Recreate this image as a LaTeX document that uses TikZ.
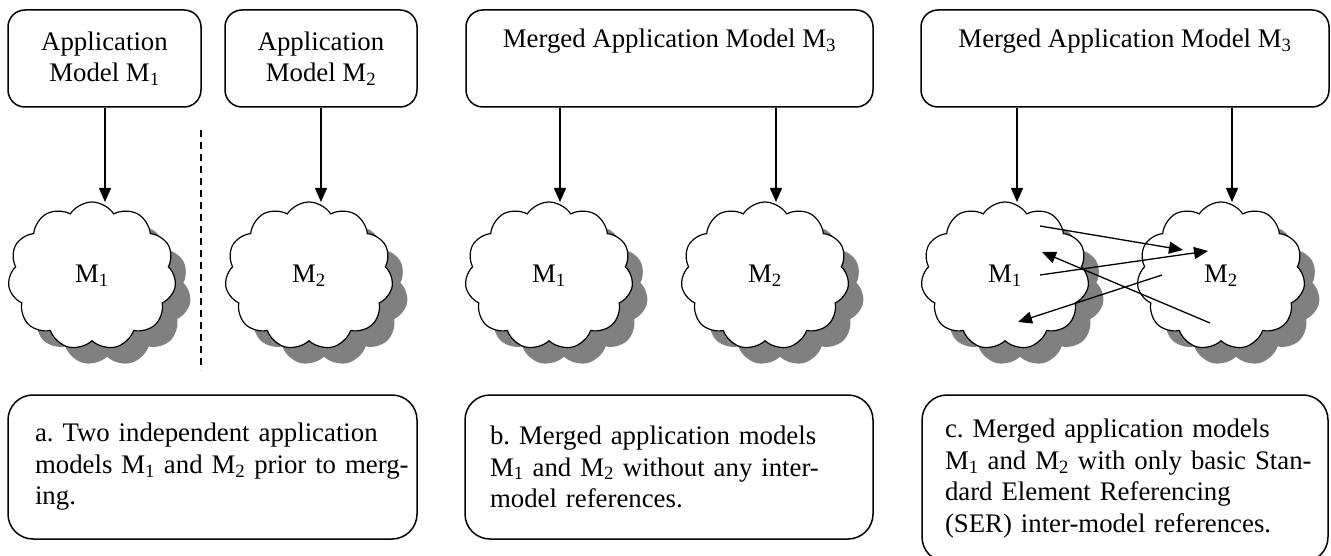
\documentclass[tikz,border=0pt]{standalone}
\usepackage{fontspec}
\setmainfont{Liberation Serif}
\usepackage{tikz}
\usetikzlibrary{positioning}
\usetikzlibrary{arrows.meta,shapes.symbols,shadows}

\newcommand{\Msub}[1]{M\textsubscript{#1}}
\frenchspacing

\begin{document}
\begin{tikzpicture}
    [x=1pt, y=-1pt,
      every node/.style={font=\fontsize{26.8}{31.5}\selectfont},
      model/.style={draw=black, line width=1.5pt, rounded corners=17pt, align=center, inner sep=0pt, minimum height=97pt},
      caption/.style={draw=black, line width=1.5pt, rounded corners=25pt, align=left, inner xsep=5pt, inner ysep=0pt,
                      execute at begin node={\leftskip=#1\relax}},
      blob/.style={cloud, cloud puffs=11, cloud puff arc=115, aspect=1.14, draw=black, line width=1.2pt, fill=white,
                   minimum width=168pt, minimum height=148pt, inner sep=0pt,
                   drop shadow={shadow xshift=15pt, shadow yshift=-16pt, fill=gray, opacity=1}},
      darc/.style={-{Triangle[length=14pt,width=12pt]}, line width=1.3pt},
      divider/.style={line width=1.2pt, dash pattern=on 7pt off 5pt}]

    \useasboundingbox (0,0) rectangle (1331,556);

    % models on top
    \node (a1) at (104.5,58.5) [model, minimum width=193pt] {Application\\Model \Msub{1}};
    \node (a2) at (321,58.5) [model, minimum width=192pt] {Application\\Model \Msub{2}};
    \node (b3) at (669.5,58.5) [model, minimum width=407pt] {Merged Application Model \Msub{3}\\ \strut};
    \node (c3) at (1125,58.5) [model, minimum width=408pt] {Merged Application Model \Msub{3}\\ \strut};

    % clouds
    \node (am1) at (92,276) [blob] {\Msub{1}};
    \node (am2) at (309,276) [blob] {\Msub{2}};
    \node (bm1) at (549,276) [blob] {\Msub{1}};
    \node (bm2) at (765,276) [blob] {\Msub{2}};
    \node (cm1) at (1005,276) [blob] {\Msub{1}};
    \node (cm2) at (1221,276) [blob] {\Msub{2}};

    \coordinate (ta1) at (105,202);
    \coordinate (ta2) at (321,202);
    \coordinate (tb1) at (560,202);
    \coordinate (tb2) at (776,202);
    \coordinate (tc1) at (1017,202);
    \coordinate (tc2) at (1232,202);
    \draw[darc] (a1.south -| ta1) to (ta1);
    \draw[darc] (a2.south -| ta2) to (ta2);
    \draw[darc] (b3.south -| tb1) to (tb1);
    \draw[darc] (b3.south -| tb2) to (tb2);
    \draw[darc] (c3.south -| tc1) to (tc1);
    \draw[darc] (c3.south -| tc2) to (tc2);

    % references between M1 and M2
    \coordinate (r1) at (1040,226);
    \coordinate (r2) at (1183,250);
    \coordinate (r3) at (1040,275);
    \coordinate (r4) at (1208,251);
    \coordinate (r5) at (1210,323);
    \coordinate (r6) at (1042,252);
    \coordinate (r7) at (1162,275);
    \coordinate (r8) at (1018,322);
    \draw[darc] (r1) to (r2);
    \draw[darc] (r3) to (r4);
    \draw[darc] (r5) to (r6);
    \draw[darc] (r7) to (r8);

    \coordinate (d1) at (201,130);
    \coordinate (d2) at (201,370);
    \draw[divider] (d1) to (d2);

    % captions
    \node (capa) at (212.5,467) [caption=22pt, text width=399pt, minimum height=144pt] {a. Two independent application\\models \Msub{1} and \Msub{2} prior to merg-\\ing.};
    \node (capb) at (669,467) [caption=20pt, text width=398pt, minimum height=144pt] {b. Merged application models\\\Msub{1} and \Msub{2} without any inter-\\model references.};
    \node (capc) at (1125,478.5) [caption=18pt, text width=396pt, minimum height=167pt] {c. Merged application models\\\Msub{1} and \Msub{2} with only basic Stan-\\dard Element Referencing\\(SER) inter-model references.};
  \end{tikzpicture}
\end{document}
